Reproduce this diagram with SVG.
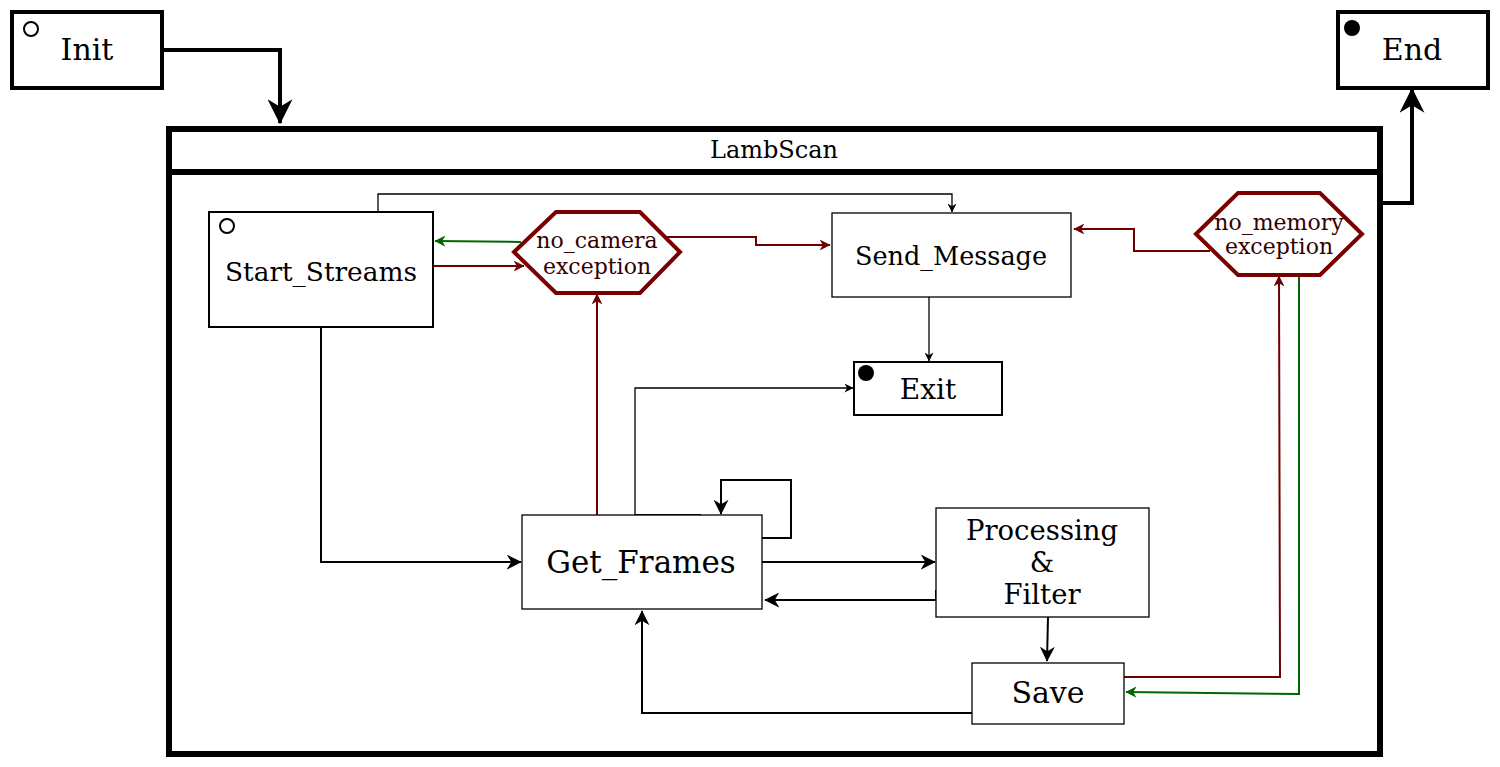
<svg xmlns="http://www.w3.org/2000/svg" width="1500" height="767" viewBox="0 0 1500 767">
<style>
text{font-family:"DejaVu Serif","Liberation Serif",serif;text-anchor:middle;dominant-baseline:central;fill:#000}
.box{fill:#fff;stroke:#000}
.hex{fill:#fff;stroke:#7a0000;stroke-width:4;stroke-linejoin:miter}
.ex{fill:#330000;font-size:22px}
.c{fill:none;stroke-linejoin:miter}
.k1{stroke:#000;stroke-width:1.3}
.k2{stroke:#000;stroke-width:2}
.k4{stroke:#000;stroke-width:4}
.r2{stroke:#6f0000;stroke-width:2}
.g2{stroke:#006600;stroke-width:2}
</style>
<defs>
<marker id="aBig" viewBox="0 0 10 10" refX="9.5" refY="5" markerWidth="25" markerHeight="25" markerUnits="userSpaceOnUse" orient="auto"><path d="M0,0 L10,5 L0,10 L3,5 Z" fill="#000"/></marker>
<marker id="aMid" viewBox="0 0 10 10" refX="9.5" refY="5" markerWidth="15" markerHeight="15" markerUnits="userSpaceOnUse" orient="auto"><path d="M0,0 L10,5 L0,10 L3,5 Z" fill="#000"/></marker>
<marker id="aSm" viewBox="0 0 10 10" refX="9.5" refY="5" markerWidth="9" markerHeight="9" markerUnits="userSpaceOnUse" orient="auto"><path d="M0,0 L10,5 L0,10 L3,5 Z" fill="#000"/></marker>
<marker id="aRed" viewBox="0 0 10 10" refX="9.5" refY="5" markerWidth="11" markerHeight="11" markerUnits="userSpaceOnUse" orient="auto"><path d="M0,0 L10,5 L0,10 L3,5 Z" fill="#6f0000"/></marker>
<marker id="aGrn" viewBox="0 0 10 10" refX="9.5" refY="5" markerWidth="11" markerHeight="11" markerUnits="userSpaceOnUse" orient="auto"><path d="M0,0 L10,5 L0,10 L3,5 Z" fill="#006600"/></marker>
</defs>

<g id="LambScan">
<rect x="169" y="129" width="1211" height="625" fill="#fff" stroke="#000" stroke-width="6"/>
<line x1="169" y1="172" x2="1380" y2="172" stroke="#000" stroke-width="6"/>
<text x="774" y="150" font-size="24">LambScan</text>
</g>

<g id="connectors">
<path class="c k4" d="M162,50 H280 V123" marker-end="url(#aBig)"/>
<path class="c k4" d="M1380,203 H1412 V89" marker-end="url(#aBig)"/>
<path class="c k1" d="M378,212 V194 H952 V212" marker-end="url(#aSm)"/>
<path class="c g2" d="M521,242 L435,241" marker-end="url(#aGrn)"/>
<path class="c r2" d="M433,266 H524" marker-end="url(#aRed)"/>
<path class="c r2" d="M665,237 H756 V245 H830" marker-end="url(#aRed)"/>
<path class="c r2" d="M1210,251 H1134 V229 H1074" marker-end="url(#aRed)"/>
<path class="c k1" d="M929,297 V361" marker-end="url(#aSm)"/>
<path class="c k1" d="M635,515 V388 H853" marker-end="url(#aSm)"/>
<line x1="635" y1="515" x2="701" y2="515" stroke="#000" stroke-width="2"/>
<path class="c r2" d="M597,515 L597,294" marker-end="url(#aRed)"/>
<path class="c k2" d="M762,538 H791 V480 H721 V514" marker-end="url(#aMid)"/>
<path class="c k2" d="M321,327 V562 H521" marker-end="url(#aMid)"/>
<path class="c k2" d="M762,562 H935" marker-end="url(#aMid)"/>
<path class="c k2" d="M936,590 V600 H765" marker-end="url(#aMid)"/>
<path class="c k2" d="M1048,617 L1047,661" marker-end="url(#aMid)"/>
<path class="c k2" d="M972,713 H642 V611" marker-end="url(#aMid)"/>
<path class="c r2" d="M1124,677 H1280 L1279,276" marker-end="url(#aRed)"/>
<path class="c g2" d="M1299,275 V694 L1126,692" marker-end="url(#aGrn)"/>
</g>

<g id="Init">
<rect class="box" x="12" y="12" width="150" height="76" stroke-width="4"/>
<circle cx="31" cy="29" r="7" fill="#fff" stroke="#000" stroke-width="2"/>
<text x="87" y="49" font-size="30">Init</text>
</g>

<g id="End">
<rect class="box" x="1338" y="12" width="150" height="76" stroke-width="4"/>
<circle cx="1352" cy="28" r="8" fill="#000"/>
<text x="1412" y="49" font-size="30">End</text>
</g>

<g id="Start_Streams">
<rect class="box" x="209" y="212" width="224" height="115" stroke-width="2"/>
<circle cx="227" cy="226" r="7" fill="#fff" stroke="#000" stroke-width="2"/>
<text x="321" y="271" font-size="26.4">Start_Streams</text>
</g>

<g id="no_camera">
<polygon class="hex" points="514,252 556,212 640,212 680,252 640,293 556,293"/>
<text class="ex" x="597" y="240">no_camera</text>
<text class="ex" x="597" y="266">exception</text>
</g>

<g id="Send_Message">
<rect class="box" x="832" y="213" width="239" height="84" stroke-width="1.3"/>
<text x="951" y="256" font-size="25.5">Send_Message</text>
</g>

<g id="no_memory">
<polygon class="hex" points="1196,234 1238,193 1320,193 1362,234 1320,275 1238,275"/>
<text class="ex" x="1279" y="222" font-size="21">no_memory</text>
<text class="ex" x="1279" y="246" font-size="21">exception</text>
</g>

<g id="Exit">
<rect class="box" x="854" y="362" width="148" height="53" stroke-width="2"/>
<circle cx="866" cy="373" r="8" fill="#000"/>
<text x="928" y="389" font-size="28">Exit</text>
</g>

<g id="Get_Frames">
<rect class="box" x="522" y="515" width="240" height="94" stroke-width="1.3"/>
<text x="641" y="562" font-size="31">Get_Frames</text>
</g>

<g id="Processing_Filter">
<rect class="box" x="936" y="508" width="213" height="109" stroke-width="1.3"/>
<text x="1042" y="530" font-size="27.5">Processing</text>
<text x="1042" y="562" font-size="27.5">&amp;</text>
<text x="1042" y="594" font-size="27.5">Filter</text>
</g>

<g id="Save">
<rect class="box" x="972" y="663" width="152" height="61" stroke-width="1.3"/>
<text x="1048" y="692" font-size="30">Save</text>
</g>
</svg>
